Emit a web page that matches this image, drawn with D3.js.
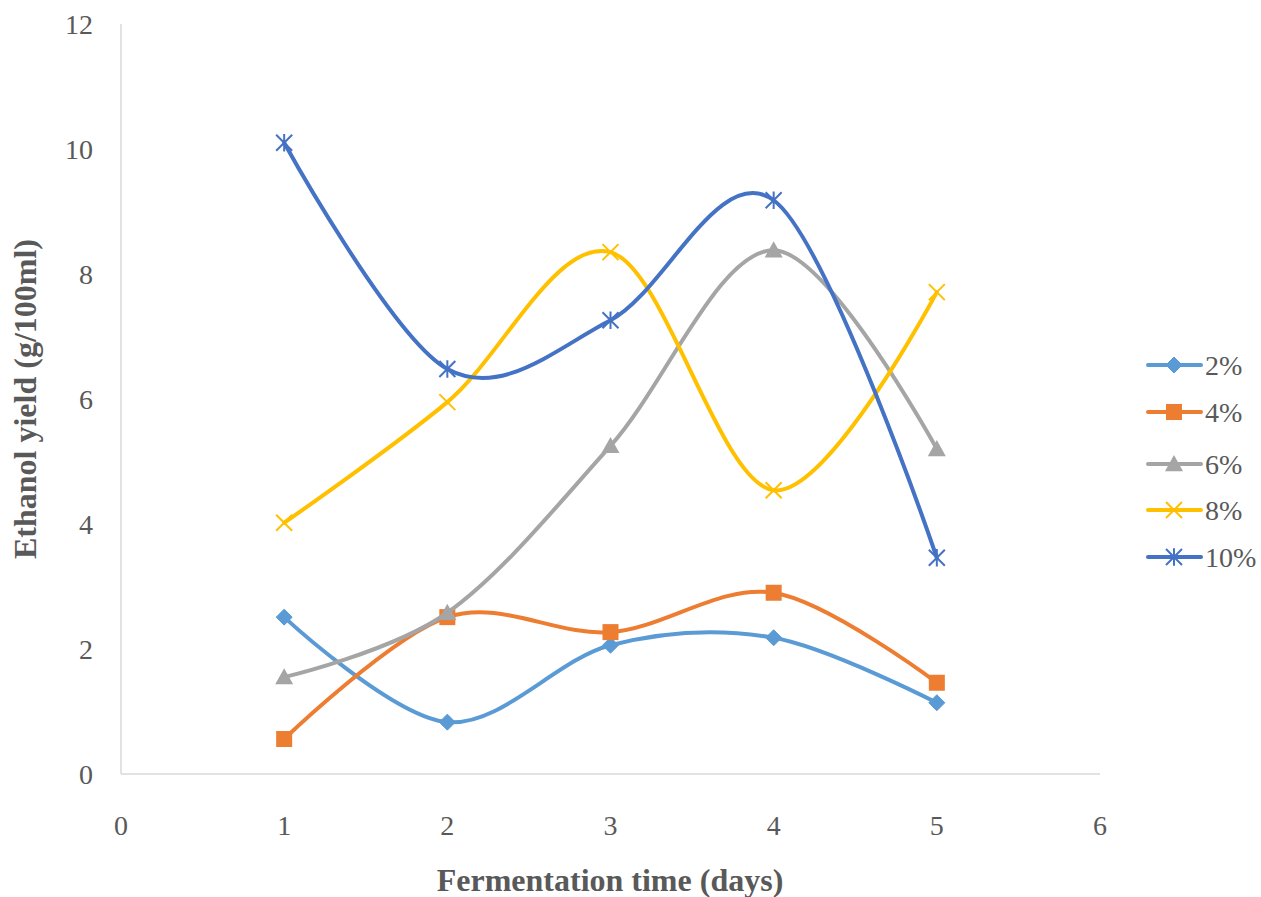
<!DOCTYPE html>
<html>
<head>
<meta charset="utf-8">
<script src="https://cdn.jsdelivr.net/npm/d3@7"></script>
<style>
  html, body { margin: 0; padding: 0; background: #fff; }
  svg text { font-family: "Liberation Serif", "Times New Roman", serif; }
</style>
</head>
<body>
<svg id="chart" width="1261" height="897"></svg>
<script>
// Fermentation time (days)
const days = [1, 2, 3, 4, 5];
// Ethanol yield (g/100ml) per substrate concentration
const y2  = [2.51, 0.83, 2.06, 2.18, 1.14];
const y4  = [0.56, 2.51, 2.27, 2.90, 1.46];
const y6  = [1.55, 2.58, 5.25, 8.38, 5.20];
const y8  = [4.02, 5.95, 8.35, 4.54, 7.71];
const y10 = [10.10, 6.48, 7.26, 9.18, 3.46];
const seriesNames = ["2%", "4%", "6%", "8%", "10%"];
const xTicks = [0, 1, 2, 3, 4, 5, 6];
const yTicks = [0, 2, 4, 6, 8, 10, 12];

const colors = ["#5b9bd5", "#ed7d31", "#a5a5a5", "#ffc000", "#4472c4"];
const markers = ["diamond", "square", "triangle", "x", "star"];
const series = [y2, y4, y6, y8, y10].map((vals, i) => ({
  name: seriesNames[i], color: colors[i], marker: markers[i],
  points: days.map((d, j) => ({ x: d, y: vals[j] }))
}));

const svg = d3.select("#chart");
const x = d3.scaleLinear().domain([0, 6]).range([121, 1100]);
const y = d3.scaleLinear().domain([0, 12]).range([774, 24]);
const textColor = "#595959";
const axisColor = "#d9d9d9";

// Axes lines
svg.append("line").attr("x1", x(0)).attr("x2", x(6)).attr("y1", y(0)).attr("y2", y(0))
  .attr("stroke", axisColor).attr("stroke-width", 1.5);
svg.append("line").attr("x1", x(0)).attr("x2", x(0)).attr("y1", y(0)).attr("y2", y(12))
  .attr("stroke", axisColor).attr("stroke-width", 1.5);

// Tick labels
svg.append("g").selectAll("text").data(xTicks).join("text")
  .attr("x", d => x(d)).attr("y", y(0) + 61)
  .attr("text-anchor", "middle").attr("font-size", 28).attr("fill", textColor)
  .text(d => d);
svg.append("g").selectAll("text").data(yTicks).join("text")
  .attr("x", x(0) - 28).attr("y", d => y(d) + 10)
  .attr("text-anchor", "end").attr("font-size", 28).attr("fill", textColor)
  .text(d => d);

// Axis titles
svg.append("text").attr("x", 610).attr("y", 891)
  .attr("text-anchor", "middle").attr("font-size", 32).attr("font-weight", "bold")
  .attr("fill", textColor).text("Fermentation time (days)");
svg.append("text").attr("transform", `translate(36, ${y(6)}) rotate(-90)`)
  .attr("text-anchor", "middle").attr("font-size", 32).attr("font-weight", "bold")
  .attr("fill", textColor).text("Ethanol yield (g/100ml)");

// Marker drawing
function drawMarker(g, type, color, cx, cy) {
  if (type === "diamond") {
    const s = 8;
    g.append("path").attr("d", `M${cx},${cy - s}L${cx + s},${cy}L${cx},${cy + s}L${cx - s},${cy}Z`)
      .attr("fill", color).attr("stroke", color).attr("stroke-width", 1);
  } else if (type === "square") {
    const s = 8;
    g.append("rect").attr("x", cx - s).attr("y", cy - s).attr("width", 2 * s).attr("height", 2 * s)
      .attr("fill", color);
  } else if (type === "triangle") {
    const s = 9;
    g.append("path").attr("d", `M${cx},${cy - s}L${cx + s},${cy + s * 0.8}L${cx - s},${cy + s * 0.8}Z`)
      .attr("fill", color);
  } else if (type === "x") {
    const s = 8;
    g.append("path").attr("d", `M${cx - s},${cy - s}L${cx + s},${cy + s}M${cx - s},${cy + s}L${cx + s},${cy - s}`)
      .attr("stroke", color).attr("stroke-width", 2).attr("fill", "none");
  } else if (type === "star") {
    const s = 8;
    g.append("path").attr("d",
      `M${cx - s},${cy - s}L${cx + s},${cy + s}M${cx - s},${cy + s}L${cx + s},${cy - s}M${cx},${cy - s * 1.1}L${cx},${cy + s * 1.1}`)
      .attr("stroke", color).attr("stroke-width", 2).attr("fill", "none");
  }
}

// Smoothed series lines
const line = d3.line().x(d => x(d.x)).y(d => y(d.y)).curve(d3.curveCardinal.tension(0));
series.forEach(s => {
  const g = svg.append("g");
  g.append("path").datum(s.points).attr("d", line)
    .attr("fill", "none").attr("stroke", s.color).attr("stroke-width", 4)
    .attr("stroke-linecap", "round");
  s.points.forEach(p => drawMarker(g, s.marker, s.color, x(p.x), y(p.y)));
});

// Legend
const legendY = [365, 412, 464, 510, 557];
series.forEach((s, i) => {
  const g = svg.append("g");
  const ly = legendY[i];
  g.append("line").attr("x1", 1148).attr("x2", 1201).attr("y1", ly).attr("y2", ly)
    .attr("stroke", s.color).attr("stroke-width", 4).attr("stroke-linecap", "round");
  drawMarker(g, s.marker, s.color, 1174, ly);
  g.append("text").attr("x", 1205).attr("y", ly + 10)
    .attr("font-size", 28).attr("fill", textColor).text(s.name);
});
</script>
</body>
</html>
